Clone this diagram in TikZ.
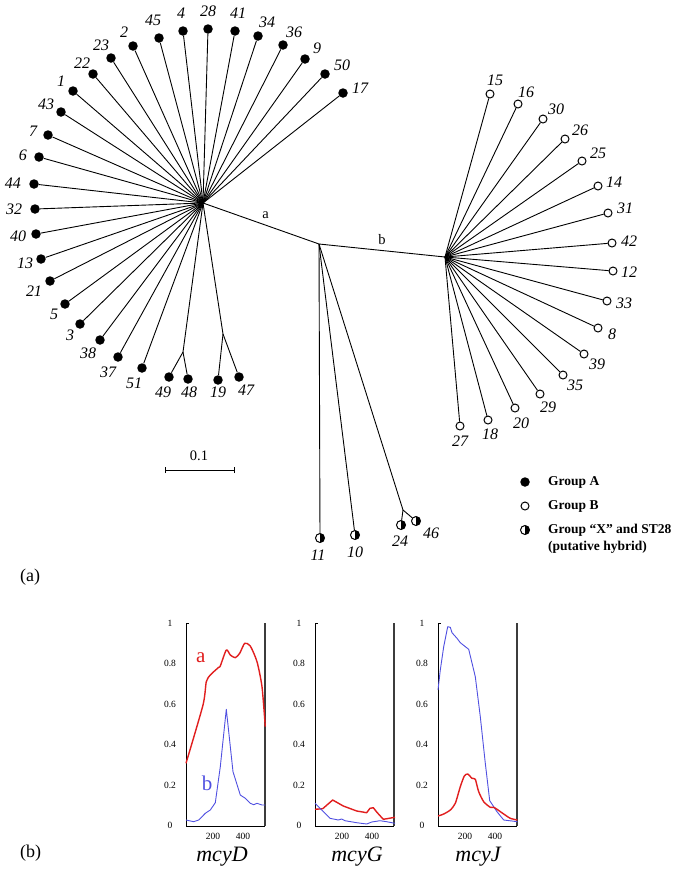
\documentclass[tikz,border=0pt]{standalone}
\usepackage{fontspec}
\setmainfont{Liberation Serif}
\definecolor{cred}{RGB}{225,30,30}
\definecolor{cblue}{RGB}{80,80,225}
\definecolor{axgray}{RGB}{60,60,60}
\tikzset{
  br/.style={line width=0.9pt},
  dotA/.style={circle,fill=black,inner sep=0pt,minimum size=9.5pt},
  dotB/.style={circle,draw=black,fill=white,line width=1pt,inner sep=0pt,minimum size=8pt},
  dotX/.style={circle,draw=black,fill=white,line width=1pt,inner sep=0pt,minimum size=9pt,
    path picture={\fill[black] (path picture bounding box.north) rectangle (path picture bounding box.south east);}},
  lab/.style={font=\fontsize{16}{16}\selectfont\itshape,inner sep=0pt},
  legtxt/.style={font=\fontsize{13.5}{14}\selectfont\bfseries,anchor=west,inner sep=0pt},
  tick/.style={font=\fontsize{9.5}{9.5}\selectfont,inner sep=0pt},
  curvered/.style={cred,line width=1.4pt,line join=round},
  curveblue/.style={cblue,line width=0.9pt,line join=round},
  genelab/.style={font=\fontsize{22}{22}\selectfont\itshape,inner sep=0pt},
}
\newcommand{\plotframe}{%
  \draw[line width=0.9pt] (0,203) -- (0,0) -- (79,0);
  \draw[line width=0.9pt] (0,203) -- (3,203);
  \draw[axgray,line width=1.6pt] (79,0) -- (79,203);
  \node[tick] at (-16,203) {1};
  \node[tick] at (-16,162.4) {0.8};
  \node[tick] at (-16,121.8) {0.6};
  \node[tick] at (-16,81.2) {0.4};
  \node[tick] at (-16,40.6) {0.2};
  \node[tick] at (-16,1) {0};
  \node[tick] at (27,-10) {200};
  \node[tick] at (57,-10) {400};
}
\begin{document}
\begin{tikzpicture}[x=1pt,y=-1pt]
\useasboundingbox (0,0) rectangle (685,887);
\fill[white] (0,0) rectangle (685,887);
% hubs
\coordinate (hubA) at (203,203);
\coordinate (mid) at (319,244);
\coordinate (hubB) at (445,257);
\coordinate (s4948) at (183,352);
\coordinate (s1947) at (223,334);
\coordinate (s2446) at (403,510);
\draw[br] (hubA) -- node[pos=0.54,above,font=\fontsize{14.5}{14}\selectfont,yshift=3pt] (la) {a} (mid);
\draw[br] (mid) -- node[pos=0.5,above,font=\fontsize{14.5}{14}\selectfont,yshift=2pt] (lb) {b} (hubB);
% group A leaves
\foreach \n/\x/\y/\lx/\ly in {17/343/93/360/88, 50/325/74/342/65, 9/305/59/317/48, 36/283/45/294/32,
  34/258/36/267/22, 41/235/31/238/13, 28/208/29/208/11, 4/183/31/181/13, 45/159/38/153/20,
  2/133/46/124/32, 23/111/58/101/45, 22/93/74/82/63, 1/73/91/61/81, 43/61/112/46/104,
  7/48/135/33/131, 6/39/157/23/155, 44/34/184/13/183, 32/35/209/14/209, 40/36/234/18/236,
  13/41/259/25/263, 21/50/281/34/291, 5/65/304/54/314, 3/80/324/70/335, 38/100/340/88/353,
  37/118/357/108/372, 51/142/368/134/383}{
  \node[dotA] (A\n) at (\x,\y) {};
  \node[lab] (LA\n) at (\lx,\ly) {\n};
  \draw[br] (hubA) -- (A\n);
}
\draw[br] (hubA) -- (s4948);
\draw[br] (hubA) -- (s1947);
\foreach \n/\x/\y/\lx/\ly/\s in {49/169/377/163/392/s4948, 48/188/379/189/392/s4948,
  19/218/380/218/392/s1947, 47/239/377/246/390/s1947}{
  \node[dotA] (A\n) at (\x,\y) {};
  \node[lab] (LA\n) at (\lx,\ly) {\n};
  \draw[br] (\s) -- (A\n);
}
% group B leaves
\foreach \n/\x/\y/\lx/\ly in {15/490/94/495/80, 16/518/104/526/92, 30/543/119/556/109,
  26/565/139/580/130, 25/582/161/598/153, 14/598/186/614/182, 31/608/213/625/208,
  42/612/243/629/241, 12/613/271/629/272, 33/607/301/624/303, 8/598/328/612/334,
  39/584/354/597/364, 35/563/375/575/385, 29/540/394/548/407, 20/515/408/521/423,
  18/488/420/490/434, 27/460/426/460/441}{
  \node[dotB] (B\n) at (\x,\y) {};
  \node[lab] (LB\n) at (\lx,\ly) {\n};
  \draw[br] (hubB) -- (B\n);
}
% group X leaves
\node[dotX] (X11) at (320,538) {};
\node[lab] (LX11) at (318,555) {11};
\node[dotX] (X10) at (355,535) {};
\node[lab] (LX10) at (355,552) {10};
\node[dotX] (X24) at (401,525) {};
\node[lab] (LX24) at (400,541) {24};
\node[dotX] (X46) at (416,521) {};
\node[lab] (LX46) at (431,533) {46};
\draw[br] (mid) -- (X11);
\draw[br] (mid) -- (X10);
\draw[br] (mid) -- (s2446);
\draw[br] (s2446) -- (X24);
\draw[br] (s2446) -- (X46);
% scale bar
\coordinate (sb1) at (165,470);
\coordinate (sb2) at (234,470);
\draw[line width=0.9pt] (sb1) -- (sb2);
\draw[line width=0.9pt] ([yshift=-3pt]sb1) -- ([yshift=3pt]sb1);
\draw[line width=0.9pt] ([yshift=-3pt]sb2) -- ([yshift=3pt]sb2);
\node[font=\fontsize{14.5}{14}\selectfont] (sblab) at (199,456) {0.1};
% legend
\node[dotA] (legA) at (525,482) {};
\node[dotB] (legB) at (525,506) {};
\node[dotX] (legX) at (525,530) {};
\node[legtxt] (tA) at (548,482) {Group A};
\node[legtxt] (tB) at (548,506) {Group B};
\node[legtxt] (tX) at (548,530) {Group “X” and ST28};
\node[legtxt] (tX2) at (548,547) {(putative hybrid)};
% panel labels
\node[font=\fontsize{18}{18}\selectfont,anchor=west,inner sep=0pt] (pa) at (20,577) {(a)};
\node[font=\fontsize{18}{18}\selectfont,anchor=west,inner sep=0pt] (pb) at (20,853) {(b)};
% plot mcyD
\begin{scope}[shift={(186,826)},yscale=-1]
  \plotframe
  \draw[curvered] plot[smooth,tension=0.4] coordinates {(0,62.7) (17,121) (20.3,144.3) (24.3,151) (32.7,158.7) (34.3,160) (40.3,176) (44.3,171) (49.3,168.3) (53.7,172.7) (58.7,182.7) (64.3,180) (71,164.3) (76,139.3) (79.3,99.3)};
  \draw[curveblue] plot coordinates {(0,6) (7.7,4.3) (12.7,6) (19.3,12.7) (24.3,16) (29.3,23.3) (34.3,59.3) (40.3,116.7) (47,54.3) (54.3,31) (59.3,27.7) (64.3,22.7) (67.7,21.3) (71,22.7) (76,21) (79.3,21)};
  \node[cred,font=\fontsize{21}{21}\selectfont] (pla) at (14.7,168) {a};
  \node[cblue,font=\fontsize{21}{21}\selectfont] (plb) at (21,43) {b};
  \node[genelab] (gD) at (36,-31) {mcyD};
\end{scope}
% plot mcyG
\begin{scope}[shift={(315,826)},yscale=-1]
  \plotframe
  \draw[curvered] plot coordinates {(0,16.7) (7.7,17.3) (17.7,26) (28.3,20) (41.7,15) (51.7,13.3) (55,17.7) (58.3,18.3) (62.3,13.3) (68.3,6.7) (80,8.7)};
  \draw[curveblue] plot coordinates {(0,22.7) (5,17.7) (15,7.7) (23.3,6) (26.7,7) (30,5.3) (41.7,3.3) (51.7,2) (56.7,4) (65,5.3) (71.7,4.3) (80,2.7)};
  \node[genelab] (gG) at (42,-31) {mcyG};
\end{scope}
% plot mcyJ
\begin{scope}[shift={(438,826)},yscale=-1]
  \plotframe
  \draw[curveblue] plot coordinates {(0,136) (2.3,156) (5.7,179.3) (9.7,199.3) (12.3,198.7) (14,193.3) (19,187.7) (22.3,183.3) (30.7,176.7) (37.3,149.3) (42.3,109.3) (47.3,62.7) (51.7,25.3) (59,14.3) (65.7,6) (74,5) (79.3,4.3)};
  \draw[curvered] plot[smooth,tension=0.4] coordinates {(0,10) (5.7,12) (12.3,16) (17.3,22.7) (22.3,39.3) (26.3,50) (29.7,52) (34,47.7) (37.3,46.7) (40.7,34.3) (45.7,24.3) (52.3,18.7) (55.7,18.7) (59,16.7) (65.7,12) (72.3,7.7) (79.3,6)};
  \node[genelab] (gJ) at (40,-31) {mcyJ};
\end{scope}
\end{tikzpicture}
\end{document}
